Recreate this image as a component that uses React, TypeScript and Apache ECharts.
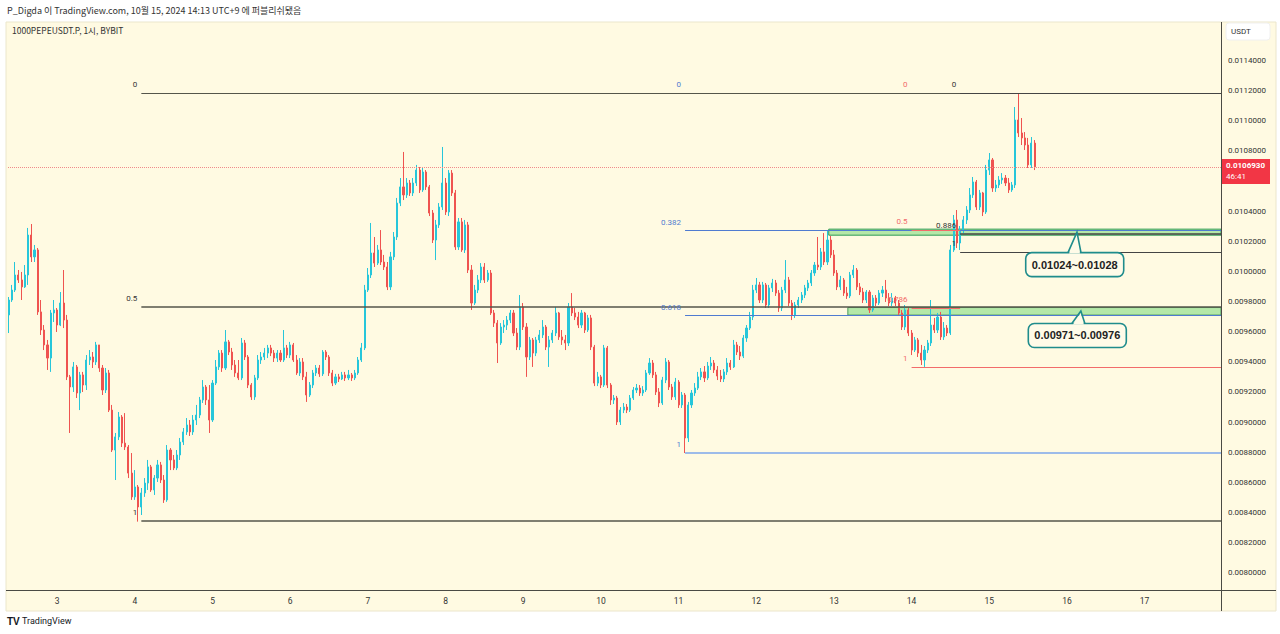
import React, { useEffect, useRef } from 'react';
import * as echarts from 'echarts';

// Prices are stored in units of 0.000001 USDT. Each candle: [close, low, high]; open = previous close.
const UNIT = 1e-6;
const START_HOUR = -15; // hours relative to day 3, 00:00
const FIRST_OPEN = 9711;

const day2 = [[9810,9591,9830],[9876,9797,9910],[9976,9863,10062],[9943,9923,10009],[9897,9810,9996],[9976,9890,10042],[10241,9910,10288],[10096,10062,10314],[10142,10062,10175],[9731,9711,10155],[9611,9578,9810],[9512,9478,9644],[9425,9346,9545],[9724,9333,9744],[9744,9664,9810]];
const day3 = [[9644,9598,9757],[9790,9637,9863],[9677,9624,10009],[9300,9279,9711],[9233,8928,9313],[9366,9200,9399],[9193,9160,9379],[9313,9080,9333],[9246,9200,9333],[9412,9213,9445],[9432,9379,9478],[9399,9359,9465],[9512,9379,9532],[9359,9333,9512],[9213,9180,9379],[9326,9193,9359],[9080,9067,9346],[8815,8802,9114],[8902,8616,8928],[9034,8881,9067],[8861,8835,9047],[8835,8815,9060],[8662,8629,8848],[8504,8484,8795]];
const day4 = [[8570,8484,8682],[8437,8340,8583],[8530,8384,8563],[8596,8504,8629],[8703,8550,8749],[8550,8537,8716],[8629,8517,8649],[8716,8603,8749],[8616,8596,8736],[8484,8464,8649],[8815,8471,8848],[8749,8682,8828],[8696,8682,8782],[8782,8682,8815],[8868,8749,8895],[8935,8848,8961],[8981,8915,9027],[8935,8908,9014],[9014,8915,9047],[9047,8981,9114],[9147,9027,9167],[9233,9127,9279],[9147,9114,9246],[9014,8928,9246]];
const day5 = [[9259,9001,9279],[9366,9246,9412],[9458,9346,9478],[9359,9333,9478],[9532,9346,9611],[9465,9445,9545],[9379,9346,9492],[9326,9300,9412],[9293,9279,9412],[9525,9279,9558],[9432,9412,9545],[9246,9226,9445],[9167,9147,9259],[9293,9147,9313],[9412,9279,9445],[9432,9386,9465],[9458,9412,9492],[9492,9425,9512],[9458,9438,9512],[9425,9399,9478],[9458,9399,9478],[9412,9399,9478],[9492,9399,9611],[9445,9425,9512]];
const day6 = [[9512,9425,9532],[9412,9399,9525],[9326,9313,9445],[9399,9306,9425],[9300,9279,9425],[9180,9134,9333],[9246,9167,9266],[9326,9226,9346],[9359,9306,9379],[9320,9300,9379],[9465,9306,9478],[9432,9412,9478],[9326,9306,9445],[9259,9239,9346],[9300,9246,9320],[9286,9266,9320],[9313,9279,9333],[9293,9273,9333],[9313,9279,9346],[9293,9273,9326],[9326,9279,9346],[9412,9313,9432],[9492,9399,9525],[9876,9478,9910]];
const day7 = [[9976,9863,10022],[10122,9956,10321],[10055,10029,10228],[10142,10042,10175],[10062,10042,10274],[10029,10009,10109],[9897,9876,10062],[10096,9876,10129],[10228,10075,10261],[10453,10208,10487],[10560,10433,10619],[10507,10473,10792],[10586,10487,10619],[10520,10500,10606],[10586,10500,10619],[10672,10566,10706],[10540,10520,10692],[10659,10527,10686],[10560,10540,10672],[10387,10367,10573],[10208,10188,10407],[10308,10075,10341],[10427,10288,10453],[10586,10407,10825]];
const day8 = [[10394,10374,10619],[10652,10367,10672],[10520,10500,10672],[10162,10142,10540],[10328,10142,10354],[10142,10129,10354],[10308,10122,10341],[10009,9989,10328],[9790,9744,10042],[9876,9777,9910],[9943,9856,9976],[10029,9923,10055],[9943,9923,10055],[9989,9930,10009],[9724,9711,10009],[9657,9631,9744],[9525,9392,9677],[9631,9512,9657],[9644,9591,9677],[9677,9611,9704],[9724,9657,9744],[9591,9571,9744],[9498,9478,9624],[9764,9478,9843]];
const day9 = [[9631,9611,9790],[9432,9300,9657],[9545,9412,9565],[9458,9366,9558],[9545,9438,9565],[9578,9525,9611],[9631,9558,9677],[9498,9478,9644],[9545,9366,9571],[9591,9525,9611],[9724,9571,9764],[9565,9545,9731],[9545,9512,9611],[9525,9478,9578],[9764,9505,9790],[9724,9704,9856],[9697,9677,9757],[9644,9624,9731],[9724,9624,9744],[9611,9591,9731],[9691,9598,9711],[9498,9478,9711],[9259,9239,9512],[9300,9239,9333]];
const day10 = [[9246,9226,9313],[9492,9233,9512],[9246,9226,9505],[9147,9114,9259],[9160,9120,9180],[9001,8981,9174],[9080,8981,9100],[9100,9060,9127],[9080,9060,9120],[9160,9067,9180],[9213,9147,9233],[9226,9193,9253],[9193,9174,9246],[9213,9174,9239],[9326,9200,9346],[9392,9313,9425],[9313,9293,9412],[9200,9180,9333],[9127,9100,9226],[9279,9114,9300],[9399,9259,9425],[9233,9213,9412],[9167,9147,9253],[9266,9147,9293]];
const day11 = [[9114,9094,9279],[9180,9094,9200],[8895,8795,9193],[9114,8868,9134],[9193,9094,9213],[9226,9174,9259],[9300,9213,9333],[9333,9279,9359],[9293,9266,9372],[9372,9279,9399],[9392,9346,9432],[9346,9326,9412],[9306,9279,9372],[9286,9266,9346],[9333,9266,9352],[9392,9313,9425],[9366,9346,9412],[9512,9359,9545],[9465,9445,9532],[9438,9412,9505],[9558,9425,9578],[9624,9532,9644],[9697,9611,9731],[9876,9677,9910]];
const day12 = [[9910,9856,9956],[9810,9790,9930],[9910,9790,9930],[9777,9757,9923],[9890,9757,9910],[9923,9863,9950],[9856,9837,9943],[9757,9731,9876],[9876,9737,9897],[9943,9856,10075],[9790,9770,9963],[9711,9677,9810],[9777,9691,9797],[9810,9757,9830],[9843,9790,9863],[9890,9823,9910],[9923,9870,9943],[9989,9903,10009],[10042,9970,10062],[10029,10009,10228],[10129,10009,10155],[10062,10042,10254],[10208,10042,10274],[10109,10089,10235]];
const day13 = [[9989,9970,10142],[9897,9876,10009],[9943,9876,9970],[9856,9837,9956],[9837,9817,9897],[9976,9823,9996],[10009,9956,10042],[9897,9876,10022],[9863,9843,9923],[9810,9790,9890],[9863,9790,9876],[9744,9724,9876],[9823,9731,9843],[9790,9770,9843],[9856,9777,9876],[9876,9830,9903],[9823,9797,9943],[9790,9770,9856],[9823,9770,9856],[9790,9770,9837],[9724,9704,9810],[9631,9611,9744],[9744,9611,9777],[9591,9571,9757]];
const day14 = [[9478,9445,9611],[9545,9465,9565],[9458,9432,9558],[9412,9379,9512],[9478,9366,9505],[9525,9458,9545],[9644,9505,9810],[9611,9591,9691],[9697,9591,9724],[9565,9545,9731],[9624,9545,9664],[9591,9571,9644],[10142,9578,10175],[10341,10129,10374],[10188,10155,10407],[10274,10142,10301],[10341,10254,10367],[10407,10314,10433],[10507,10387,10553],[10593,10487,10626],[10427,10407,10606],[10520,10407,10540],[10394,10367,10527],[10672,10381,10706]];
const day15 = [[10739,10639,10785],[10553,10527,10752],[10573,10527,10606],[10606,10553,10632],[10619,10580,10652],[10586,10566,10639],[10540,10520,10619],[10573,10527,10593],[11004,10553,11090],[10918,10891,11183],[10885,10838,11017],[10838,10805,10924],[10706,10686,10885],[10851,10686,10891],[10693,10672,10871]];

const DAY_LABELS = ['3','4','5','6','7','8','9','10','11','12','13','14','15','16','17'];
// 0.0106 sits under the last-price tag, as in the reference
const PRICE_TICKS = [0.0080,0.0082,0.0084,0.0086,0.0088,0.0090,0.0092,0.0094,0.0096,0.0098,0.0100,0.0102,0.0104,0.0108,0.0110,0.0112,0.0114];
const LAST_PRICE = 0.010693;
const COUNTDOWN = '46:41';

// Fibonacci tools (all share the same swing high)
const FIB_HIGH = 11183;
const BLACK_FIB = { low: 8345, fromHour: 26, levels: [0, 0.5, 1] };
const BLUE_FIB = { low: 8795, fromHour: 194, levels: [0, 0.382, 0.618, 1] };
const RED_FIB = { low: 9366, fromHour: 264, levels: [0, 0.5, 0.786, 1] };
const BLACK2_FIB = { low: 10128, fromHour: 279, levels: [0, 0.886, 1] };

// Zones [low, high] and their start hours
const ZONE_UPPER = [10240, 10280];
const ZONE_UPPER_FROM = 238.4;
const ZONE_LOWER = [9710, 9760];
const ZONE_LOWER_FROM = 244.3;

const CALLOUT_TEXTS = ['0.01024~0.01028', '0.00971~0.00976'];
const CALLOUT_ANCHORS = [
  { hour: 314.4, price: 0.010045, tipHour: 315.1, tipPrice: 0.01026 },
  { hour: 315.2, price: 0.0095746, tipHour: 316.3, tipPrice: 0.009737 },
];

const X_MIN = -15.2;
const X_MAX = 359.6;
const Y_MIN = 0.0078865;
const Y_MAX = 0.011654;

const UP = '#26c6da';
const DOWN = '#ef5350';
const CREAM = '#fffae2';
const FONT = 'Roboto';

export default function App() {
  const ref = useRef<HTMLDivElement>(null);
  useEffect(() => {
    if (!ref.current) return;
    const chart = echarts.init(ref.current, undefined, { renderer: 'svg' });

    const days = [day2, day3, day4, day5, day6, day7, day8, day9, day10, day11, day12, day13, day14, day15];
    const candles: number[][] = [];
    let prev = FIRST_OPEN;
    let hour = START_HOUR;
    for (const d of days) {
      for (const [c, l, h] of d) {
        const o = prev;
        candles.push([hour, o * UNIT, c * UNIT, Math.min(l, o, c) * UNIT, Math.max(h, o, c) * UNIT]);
        prev = c;
        hour++;
      }
    }

    const fibLines = (fib: any, colorFor: (lv: number) => string, labelColor: string, widthFor: (lv: number) => number, endFor: (lv: number) => number) =>
      fib.levels.map((lv: number) => {
        const price = (FIB_HIGH - lv * (FIB_HIGH - fib.low)) * UNIT;
        return [
          {
            coord: [fib.fromHour, price],
            lineStyle: { color: colorFor(lv), width: widthFor(lv), type: 'solid' },
            label: {
              show: true, position: 'start', formatter: `${lv}\n `, color: labelColor,
              fontSize: 8, fontFamily: FONT, distance: 4, lineHeight: 17,
            },
          },
          { coord: [endFor(lv), price] },
        ];
      });

    const markLineData = [
      ...fibLines(BLUE_FIB, (lv) => (lv === 1 ? '#9dbbe9' : '#4f7bd0'), '#4f7bd0', (lv) => (lv === 1 ? 2 : 1), () => X_MAX),
      ...fibLines(RED_FIB, () => '#f26b6b', '#f26b6b', () => 1, (lv) => (lv === 1 ? X_MAX : BLACK2_FIB.fromHour)),
      ...fibLines(BLACK_FIB, () => '#55554a', '#333', (lv) => (lv === 0 ? 1 : 1.5), () => X_MAX),
      ...fibLines(BLACK2_FIB, () => '#444', '#333', (lv) => (lv === 0.886 ? 1.5 : 1), () => X_MAX),
      [
        { coord: [X_MIN, LAST_PRICE], lineStyle: { color: '#f08a8a', type: 'dotted', width: 1 }, label: { show: false } },
        { coord: [X_MAX, LAST_PRICE] },
      ],
    ];

    chart.setOption({
      animation: false,
      backgroundColor: '#ffffff',
      grid: { left: 8, right: 59, top: 22, bottom: 44, containLabel: false },
      xAxis: {
        type: 'value', min: X_MIN, max: X_MAX,
        splitLine: { show: false }, axisLine: { show: false }, axisTick: { show: false },
        axisLabel: {
          customValues: DAY_LABELS.map((_, i) => i * 24),
          formatter: (v: number) => DAY_LABELS[Math.round(v / 24)] ?? '',
          color: '#333', fontSize: 8.5, fontFamily: FONT, margin: 6,
        },
      },
      yAxis: {
        type: 'value', position: 'right', min: Y_MIN, max: Y_MAX, scale: true,
        splitLine: { show: false }, axisLine: { show: false }, axisTick: { show: false },
        axisLabel: {
          customValues: PRICE_TICKS,
          formatter: (v: number) => v.toFixed(7),
          color: '#333', fontSize: 8, fontFamily: FONT, margin: 7,
        },
      },
      series: [
        {
          type: 'candlestick',
          data: candles,
          encode: { x: 0, y: [1, 2, 3, 4] },
          barWidth: 1.6,
          z: 3,
          itemStyle: { color: UP, color0: DOWN, borderColor: UP, borderColor0: DOWN, borderWidth: 1 },
          markArea: {
            silent: true,
            data: [
              [{ coord: [ZONE_UPPER_FROM, ZONE_UPPER[0] * UNIT], itemStyle: { color: 'rgba(120, 215, 120, 0.55)', borderColor: '#2f9a55', borderWidth: 1 } }, { coord: [X_MAX, ZONE_UPPER[1] * UNIT] }],
              [{ coord: [ZONE_LOWER_FROM, ZONE_LOWER[0] * UNIT], itemStyle: { color: 'rgba(130, 220, 130, 0.6)', borderColor: '#4c9a5c', borderWidth: 1 } }, { coord: [X_MAX, ZONE_LOWER[1] * UNIT] }],
            ],
          },
        },
        {
          type: 'line',
          data: [],
          z: 5,
          markLine: {
            silent: true, symbol: ['none', 'none'], animation: false,
            data: markLineData,
          },
        },
      ],
    });

    const toPx = (h: number, p: number) => chart.convertToPixel({ gridIndex: 0 } as any, [h, p]) as number[];

    const elements: any[] = [
      { type: 'rect', z: -10, shape: { x: 6, y: 22, width: 1270, height: 589 }, style: { fill: CREAM, stroke: '#ebe6cc', lineWidth: 1 } },
      { type: 'line', z: 10, shape: { x1: 1221.5, y1: 22, x2: 1221.5, y2: 611 }, style: { stroke: '#4a4a44', lineWidth: 1 } },
      { type: 'line', z: 10, shape: { x1: 6, y1: 590.5, x2: 1276, y2: 590.5 }, style: { stroke: '#4a4a44', lineWidth: 1 } },
      { type: 'text', z: 10, x: 7, y: 10.5, style: { text: 'P_Digda 이 TradingView.com, 10월 15, 2024 14:13 UTC+9 에 퍼블리쉬됐음', fill: '#333', font: '9px "Noto Sans CJK KR"', verticalAlign: 'middle', textVerticalAlign: 'middle' } },
      { type: 'text', z: 10, x: 12, y: 29.5, style: { text: '1000PEPEUSDT.P, 1시, BYBIT', fill: '#333', font: '8.5px "Noto Sans CJK KR"', verticalAlign: 'middle', textVerticalAlign: 'middle' } },
      { type: 'rect', z: 10, shape: { x: 1226, y: 23, width: 44, height: 17, r: 3 }, style: { fill: '#ffffff', stroke: '#f0f0f0', lineWidth: 1 } },
      { type: 'text', z: 11, x: 1231, y: 31.5, style: { text: 'USDT', fill: '#333', font: '8px Roboto', verticalAlign: 'middle', textVerticalAlign: 'middle' } },
      { type: 'text', z: 10, x: 7, y: 621, style: { text: 'TV', fill: '#131722', font: 'bold 10px "Liberation Sans"', verticalAlign: 'middle', textVerticalAlign: 'middle' } },
      { type: 'text', z: 10, x: 22, y: 621, style: { text: 'TradingView', fill: '#131722', font: '9px Roboto', verticalAlign: 'middle', textVerticalAlign: 'middle' } },
    ];

    const py = toPx(0, LAST_PRICE)[1];
    elements.push(
      { type: 'rect', z: 20, shape: { x: 1222, y: py - 8, width: 48, height: 25 }, style: { fill: '#f23645' } },
      { type: 'text', z: 21, x: 1226, y: py - 1.5, style: { text: (LAST_PRICE).toFixed(7), fill: '#fff', font: 'bold 8px Roboto', verticalAlign: 'middle', textVerticalAlign: 'middle' } },
      { type: 'text', z: 21, x: 1226, y: py + 9.5, style: { text: COUNTDOWN, fill: '#fff', font: '8px Roboto', verticalAlign: 'middle', textVerticalAlign: 'middle' } },
    );

    CALLOUT_ANCHORS.forEach((a, i) => {
      const [cx, cy] = toPx(a.hour, a.price);
      const [tx, ty] = toPx(a.tipHour, a.tipPrice);
      const w = 98, hgt = 24;
      const left = cx - w / 2, top = cy - hgt / 2;
      const bx1 = tx - 9, bx2 = tx + 4;
      elements.push(
        { type: 'rect', z: 30, shape: { x: left, y: top, width: w, height: hgt, r: 6 }, style: { fill: '#fffbe8', stroke: '#1f8c8c', lineWidth: 1.6 } },
        { type: 'polygon', z: 31, shape: { points: [[bx1 + 1, top + 1], [tx, ty + 2], [bx2 - 1, top + 1]] }, style: { fill: '#fffbe8' } },
        { type: 'polyline', z: 32, shape: { points: [[bx1, top], [tx, ty], [bx2, top]] }, style: { stroke: '#1f8c8c', lineWidth: 1.6, fill: 'none' } },
        { type: 'text', z: 33, x: cx, y: cy, style: { text: CALLOUT_TEXTS[i], fill: '#222', font: 'bold 11px "Liberation Sans"', align: 'center', verticalAlign: 'middle', textAlign: 'center', textVerticalAlign: 'middle' } },
      );
    });

    chart.setOption({ graphic: elements });

    return () => chart.dispose();
  }, []);

  return <div ref={ref} style={{ position: 'fixed', left: 0, top: 0, width: 1280, height: 634 }} />;
}
